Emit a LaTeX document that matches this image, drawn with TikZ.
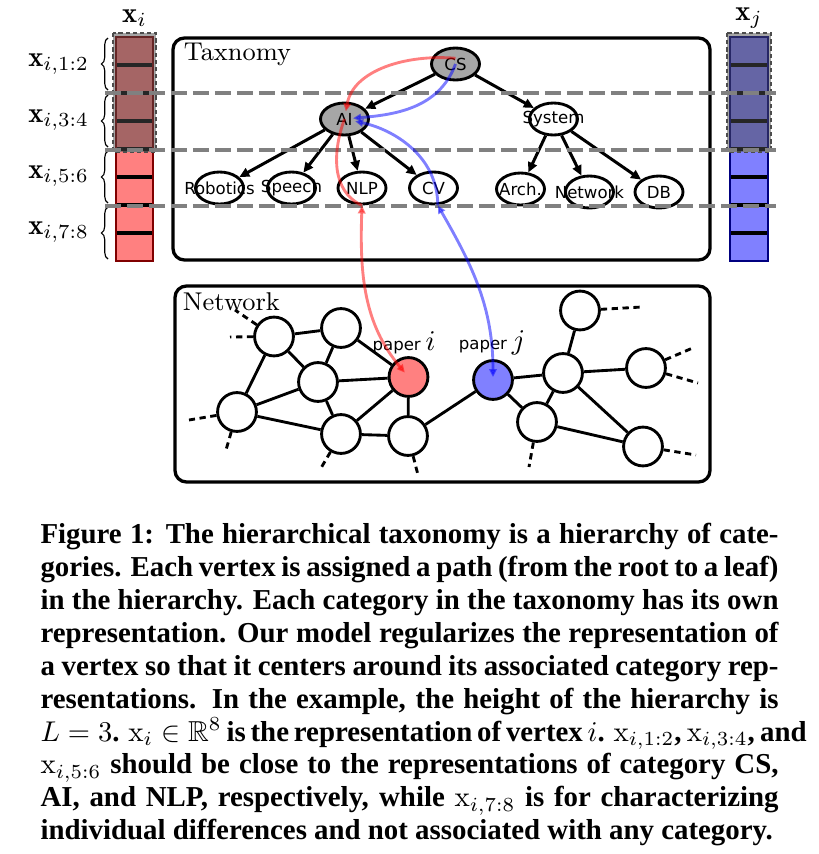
\documentclass[tikz,border=0pt]{standalone}
\usepackage{fontspec}
\usepackage{amssymb}
\newfontfamily\nodefont{DejaVu Sans}
\newfontfamily\capfont{Liberation Serif}
\usetikzlibrary{arrows.meta,shapes.geometric,decorations.pathreplacing}

\tikzset{
	catnode/.style={ellipse, draw, line width=1pt, fill=white, minimum width=16.8pt, minimum height=11.2pt, inner sep=0pt, font=\nodefont\fontsize{5.8}{6.9}\selectfont},
	rootcat/.style={catnode, fill=black!35},
	vertex/.style={circle, draw, line width=1pt, fill=white, minimum size=13.6pt, inner sep=0pt},
	treeedge/.style={->, line width=1.05pt},
	stubline/.style={line width=1pt, dash pattern=on 2.2pt off 1.6pt},
	levelline/.style={gray, line width=1.4pt, dash pattern=on 5.5pt off 2.2pt},
	panel/.style={draw, line width=1.15pt, rounded corners=4pt},
	shadebox/.style={draw=black!70, line width=0.5pt, dash pattern=on 1.5pt off 1pt, fill=black!70, fill opacity=0.5},
	redlink/.style={red, opacity=0.5, line width=1pt},
	bluelink/.style={blue, opacity=0.5, line width=1pt},
	smalltip/.tip={Triangle[length=2.8pt,width=2.6pt]},
}

\begin{document}
\begin{tikzpicture}[x=0.35pt, y=-0.35pt, >={Triangle[length=3.5pt,width=3.2pt]}]
	\useasboundingbox (0,0) rectangle (819,854);

	% vector of paper i
	\fill[red!50] (116,37) rectangle (153,261);
	\draw[line width=1.3pt] (116,65) -- (153,65) (116,93) -- (153,93) (116,121) -- (153,121) (116,149) -- (153,149)
		(116,177) -- (153,177) (116,205) -- (153,205) (116,233) -- (153,233);
	\draw[red!50!black, line width=1pt] (116,37) rectangle (153,261);
	\draw[shadebox] (113,33) rectangle (156,152);
	\node (xi) at (134.5,18) {$\mathbf{x}_i$};

	% vector of paper j
	\fill[blue!50] (730,37) rectangle (768,261);
	\draw[line width=1.3pt] (730,65) -- (768,65) (730,93) -- (768,93) (730,121) -- (768,121) (730,149) -- (768,149)
		(730,177) -- (768,177) (730,205) -- (768,205) (730,233) -- (768,233);
	\draw[blue!50!black, line width=1pt] (730,37) rectangle (768,261);
	\draw[shadebox] (727,33) rectangle (771,152);
	\node (xj) at (749,18) {$\mathbf{x}_j$};

	% braces
	\draw[decorate, decoration={brace, amplitude=2.3pt}, line width=0.4pt] (108,90) -- (108,38);
	\draw[decorate, decoration={brace, amplitude=2.3pt}, line width=0.4pt] (108,147) -- (108,95);
	\draw[decorate, decoration={brace, amplitude=2.3pt}, line width=0.4pt] (108,203) -- (108,151);
	\draw[decorate, decoration={brace, amplitude=2.3pt}, line width=0.4pt] (108,259) -- (108,207);
	\node[anchor=east] (b12) at (99,64) {$\mathbf{x}_{i,1:2}$};
	\node[anchor=east] (b34) at (99,120) {$\mathbf{x}_{i,3:4}$};
	\node[anchor=east] (b56) at (99,176) {$\mathbf{x}_{i,5:6}$};
	\node[anchor=east] (b78) at (99,232) {$\mathbf{x}_{i,7:8}$};

	% taxonomy
	\draw[panel] (173,38) rectangle (710,260);
	\node[anchor=north west, inner sep=1.5pt, font=\fontsize{9}{11}\selectfont] (tax) at (179,38) {Taxnomy};

	\node[rootcat] (CS) at (455.5,64) {\makebox[0pt]{CS}};
	\node[rootcat] (AI) at (344.5,119) {\makebox[0pt]{AI}};
	\node[catnode] (Sys) at (553.5,119) {\makebox[0pt]{System}};
	\node[catnode] (Rob) at (219.5,188) {\makebox[0pt]{Robotics}};
	\node[catnode] (Spe) at (291.5,188) {\makebox[0pt]{Speech}};
	\node[catnode] (NLP) at (362,188) {\makebox[0pt]{NLP}};
	\node[catnode] (CV) at (433.5,188) {\makebox[0pt]{CV}};
	\node[catnode] (Arch) at (520.5,189) {\makebox[0pt]{Arch.}};
	\node[catnode] (Net) at (589.5,192) {\makebox[0pt]{Network}};
	\node[catnode] (DB) at (659,192) {\makebox[0pt]{DB}};

	\draw[treeedge] (CS) edge (AI) edge (Sys)
		(AI) edge (Rob) edge (Spe) edge (NLP) edge (CV)
		(Sys) edge (Arch) edge (Net) edge (DB);

	% levels of the hierarchy
	\draw[levelline] (105,93) -- (776,93);
	\draw[levelline] (105,150) -- (776,150);
	\draw[levelline] (105,206) -- (776,206);

	% network
	\draw[panel] (175,286) rectangle (710,482);
	\node[anchor=north west, inner sep=1.5pt, font=\fontsize{9}{11}\selectfont] (netlabel) at (178,288) {Network};

	\node[vertex] (v1) at (274,336.5) {};
	\node[vertex] (v2) at (341,328) {};
	\node[vertex] (v3) at (318,382) {};
	\node[vertex] (v4) at (237,412) {};
	\node[vertex] (v5) at (341,434) {};
	\node[vertex, fill=red!50] (pi) at (408.5,377) {};
	\node[vertex] (v6) at (408,436) {};
	\node[vertex, fill=blue!50] (pj) at (493,380) {};
	\node[vertex] (v7) at (563,373) {};
	\node[vertex] (v8) at (580,310.5) {};
	\node[vertex] (v9) at (537,422) {};
	\node[vertex] (v10) at (646,368) {};
	\node[vertex] (v11) at (643,446.5) {};

	\node (li) at (404,343) {{\nodefont\fontsize{5.8}{6.9}\selectfont paper}\,$i$};
	\node (lj) at (492,343) {{\nodefont\fontsize{5.8}{6.9}\selectfont paper}\,$j$};

	\draw[line width=1pt] (v1) -- (v2) (v1) -- (v3) (v1) -- (v4) (v2) -- (v3) (v2) -- (pi)
		(v3) -- (pi) (v3) -- (v4) (v3) -- (v5) (v4) -- (v5) (v5) -- (pi) (v5) -- (v6)
		(v6) -- (pi) (v6) -- (pj) (pj) -- (v7) (pj) -- (v9) (v7) -- (v8) (v7) -- (v10)
		(v7) -- (v9) (v7) -- (v11) (v9) -- (v11);

	\coordinate (s1a) at (235,310);
	\coordinate (s1b) at (230,337);
	\coordinate (s4a) at (189,420);
	\coordinate (s4b) at (226,450);
	\coordinate (s5) at (321,468);
	\coordinate (s6) at (418,475);
	\coordinate (s9) at (529,467);
	\coordinate (s8) at (642,307);
	\coordinate (s10a) at (695,347);
	\coordinate (s10b) at (698,383);
	\coordinate (s11) at (696,455);
	\draw[stubline] (v1) -- (s1a) (v1) -- (s1b) (v4) -- (s4a) (v4) -- (s4b) (v5) -- (s5)
		(v6) -- (s6) (v9) -- (s9) (v8) -- (s8) (v10) -- (s10a) (v10) -- (s10b) (v11) -- (s11);

	% paths of the two papers
	\draw[redlink, -smalltip, shorten >=2.7pt] ([yshift=2pt]CS.center) to[out=175, in=80] (AI.center);
	\draw[redlink] (AI.center) to[out=-110, in=155] (NLP.south);
	\draw[redlink, smalltip-smalltip, shorten >=2pt] (NLP.south) to[out=-92, in=130] (pi.center);
	\draw[bluelink, -smalltip, shorten >=3pt] (CS.center) to[out=-110, in=5] (AI.center);
	\draw[bluelink, -smalltip, shorten >=3.8pt] ([xshift=1.5pt]CV.south) to[out=90, in=-12] (AI.center);
	\draw[bluelink, smalltip-smalltip, shorten >=1pt] ([xshift=1.5pt]CV.south) to[out=-60, in=90] (pj.center);

	% caption
	\node[anchor=north west, inner sep=0pt, align=left, font=\capfont\bfseries\fontsize{10.1}{11.5}\selectfont] (cap) at (40,523) {%
		\makebox[258.3pt][s]{Figure 1: The hierarchical taxonomy is a hierarchy of cate-}\\
		\makebox[258.3pt][s]{gories. Each vertex is assigned a path (from the root to a leaf)}\\
		\makebox[258.3pt][s]{in the hierarchy. Each category in the taxonomy has its own}\\
		\makebox[258.3pt][s]{representation. Our model regularizes the representation of}\\
		\makebox[258.3pt][s]{a vertex so that it centers around its associated category rep-}\\
		\makebox[258.3pt][s]{resentations. In the example, the height of the hierarchy is}\\
		\makebox[258.3pt][s]{$L = 3$. $\mathrm{x}_i \in \mathbb{R}^8$ is the representation of vertex $i$. $\mathrm{x}_{i,1:2}$, $\mathrm{x}_{i,3:4}$, and}\\
		\makebox[258.3pt][s]{$\mathrm{x}_{i,5:6}$ should be close to the representations of category CS,}\\
		\makebox[258.3pt][s]{AI, and NLP, respectively, while $\mathrm{x}_{i,7:8}$ is for characterizing}\\
		individual differences and not associated with any category.};
\end{tikzpicture}
\end{document}
